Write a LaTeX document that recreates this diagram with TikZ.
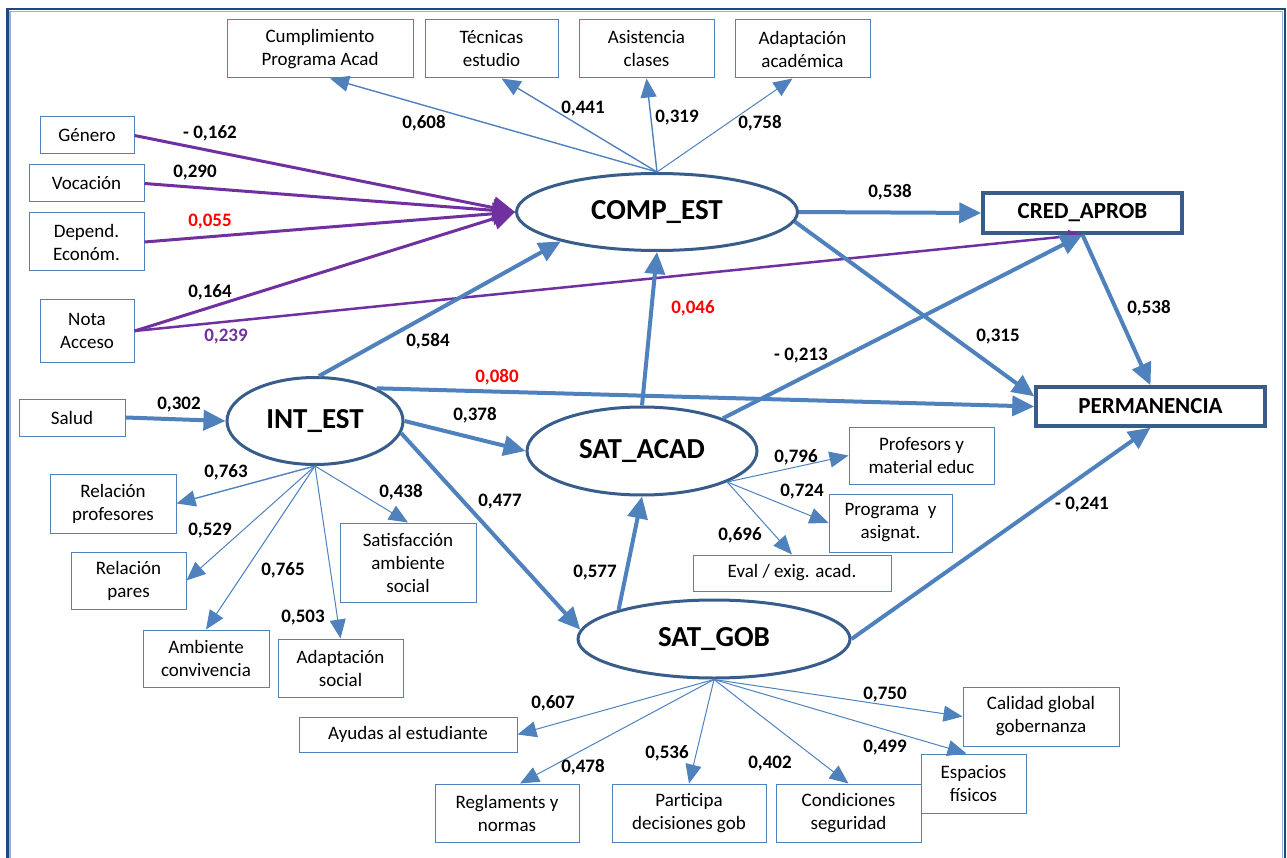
\documentclass[tikz,border=0pt]{standalone}
\usepackage{fontspec}
\setmainfont{Carlito}
\usetikzlibrary{arrows.meta, positioning, shapes.geometric, calc}
\definecolor{pathblue}{RGB}{79,129,189}
\definecolor{ovalblue}{RGB}{56,93,138}
\definecolor{frameblue}{RGB}{31,73,125}
\definecolor{framelight}{RGB}{149,179,215}
\definecolor{pathpurple}{RGB}{112,48,160}
\definecolor{coefred}{RGB}{255,0,0}

\begin{document}
\begin{tikzpicture}[x=1pt, y=-1pt,
    latent/.style={ellipse, draw=ovalblue, line width=3pt, fill=white, inner sep=0pt, font=\fontsize{29}{34}\selectfont\bfseries},
    outcome/.style={rectangle, draw=ovalblue, line width=3.5pt, fill=white, inner sep=0pt, font=\fontsize{23}{28}\selectfont\bfseries},
    indic/.style={rectangle, draw=pathblue, line width=1pt, fill=white, inner sep=0pt, align=center, font=\fontsize{19}{23}\selectfont},
    coef/.style={font=\fontsize{19}{22}\selectfont\bfseries},
    strong/.style={draw=pathblue, line width=4pt, -{Triangle[length=22pt, width=20pt]}},
    load/.style={draw=pathblue, line width=1.4pt, -{Triangle[length=19pt, width=16pt]}},
    covar/.style={draw=pathpurple, line width=3pt, -{Triangle[length=22pt, width=22pt]}}]

    \useasboundingbox (0,0) rectangle (1287,858);
    \clip (0,0) rectangle (1287,858);
    \draw[frameblue, line width=2.5pt] (7.5,9) rectangle (1285,880);
    \draw[framelight, line width=1.2pt] (10,11.5) rectangle (1282.5,880);

    % latent variables and outcomes
    \node[latent, minimum width=281, minimum height=77] (compest) at (657,212) {COMP\_EST};
    \node[latent, minimum width=176, minimum height=87] (intest) at (315,421) {INT\_EST};
    \node[latent, minimum width=230, minimum height=88] (satacad) at (642,451) {SAT\_ACAD};
    \node[latent, minimum width=272, minimum height=78] (satgob) at (714,639) {SAT\_GOB};
    \node[outcome, minimum width=199, minimum height=40] (credaprob) at (1082.5,213) {CRED\_APROB};
    \node[outcome, minimum width=229, minimum height=39] (perm) at (1150.5,406.5) {PERMANENCIA};

    % indicators
    \node[indic, minimum width=186, minimum height=58] (cumpl) at (320,49) {Cumplimiento\\Programa Acad};
    \node[indic, minimum width=133, minimum height=58] (tecnicas) at (491.5,49) {Técnicas\\estudio};
    \node[indic, minimum width=135, minimum height=58] (asist) at (646.5,49) {Asistencia\\clases};
    \node[indic, minimum width=135, minimum height=58] (adapac) at (802.5,49) {Adaptación\\académica};

    \node[indic, minimum width=94, minimum height=37] (genero) at (87,135.5) {Género};
    \node[indic, minimum width=115, minimum height=37] (vocacion) at (86.5,183.5) {Vocación};
    \node[indic, minimum width=115, minimum height=58] (depend) at (86.5,242) {Depend.\\Económ.};
    \node[indic, minimum width=94, minimum height=62] (nota) at (87,331) {Nota\\Acceso};
    \node[indic, minimum width=106, minimum height=37] (salud) at (72,417.5) {Salud};

    \node[indic, minimum width=126, minimum height=59] (relprof) at (113,503.5) {Relación\\profesores};
    \node[indic, minimum width=115, minimum height=57] (relpares) at (128.5,580.5) {Relación\\pares};
    \node[indic, minimum width=126, minimum height=57] (ambconv) at (206,658.5) {Ambiente\\convivencia};
    \node[indic, minimum width=125, minimum height=58] (adapsoc) at (340.5,668) {Adaptación\\social};
    \node[indic, minimum width=136, minimum height=79] (satamb) at (408,562.5) {Satisfacción\\ambiente\\social};

    \node[indic, minimum width=145, minimum height=57] (profmat) at (921.5,455.5) {Profesors y\\material educ};
    \node[indic, minimum width=123, minimum height=58] (progasig) at (890.5,523) {Programa~ y\\asignat.};
    \node[indic, minimum width=198, minimum height=36] (evalexig) at (792,573) {Eval / exig. acad.};

    \node[indic, minimum width=218, minimum height=35] (ayudas) at (408,734.5) {Ayudas al estudiante};
    \node[indic, minimum width=144, minimum height=58] (reglam) at (507,813) {Reglaments y\\normas};
    \node[indic, minimum width=154, minimum height=58] (particip) at (689,813) {Participa\\decisiones gob};
    \node[indic, minimum width=145, minimum height=58] (condic) at (848.5,813) {Condiciones\\seguridad};
    \node[indic, minimum width=105, minimum height=59] (espacios) at (973.5,783.5) {Espacios\\físicos};
    \node[indic, minimum width=156, minimum height=59] (calidad) at (1041,716.5) {Calidad global\\gobernanza};

    % loadings
    \draw[load] (compest.north) -- ($(cumpl.south)+(10,0)$);
    \draw[load] (compest.north) -- ($(tecnicas.south)+(10,0)$);
    \draw[load] (compest.north) -- (asist.south);
    \draw[load, line width=1pt] (compest.north) -- ($(adapac.south)+(-10,0)$);

    \draw[load] (intest.south) -- (relprof.east);
    \draw[load, line width=1pt] (intest.south) -- (relpares.east);
    \draw[load, line width=1pt] (intest.south) -- (ambconv.north);
    \draw[load, line width=1pt] (intest.south) -- (adapsoc.north);
    \draw[load, line width=1pt] (intest.south) -- (satamb.north);

    \draw[load, line width=1pt] (satacad.-20) -- (profmat.west);
    \draw[load, line width=1pt] (satacad.-20) -- (progasig.west);
    \draw[load, line width=1pt] (satacad.-20) -- (evalexig.north);

    \draw[load, line width=1pt] (satgob.south) -- (ayudas.east);
    \draw[load, line width=1pt] (satgob.south) -- ($(reglam.north)+(13,0)$);
    \draw[load, line width=1pt] (satgob.south) -- (particip.north);
    \draw[load, line width=1pt] (satgob.south) -- (condic.north);
    \draw[load, line width=1pt] (satgob.south) -- ($(espacios.north)+(-7,0)$);
    \draw[load, line width=1pt] (satgob.south) -- (calidad.west);

    % exogenous effects
    \draw[covar] (genero.east) -- (compest.west);
    \draw[covar] (vocacion.east) -- (compest.west);
    \draw[covar] (depend.east) -- (compest.west);
    \draw[covar] (nota.east) -- (compest.west);
    \draw[covar, line width=2.5pt, -{Triangle[length=14pt, width=12pt]}] (nota.east) -- (credaprob.south);

    % structural paths
    \draw[strong] (compest.east) -- (credaprob.west);
    \draw[strong] (compest.-4) -- (perm.175);
    \draw[strong] (credaprob.south) -- (perm.north);
    \draw[strong] (intest.85) -- (compest.197);
    \draw[strong] (intest.28) -- (perm.west);
    \draw[strong] (intest.east) -- (satacad.west);
    \draw[strong] (intest.-8) -- (satgob.176);
    \draw[strong] (salud.east) -- (intest.west);
    \draw[strong] (satacad.north) -- (compest.south);
    \draw[strong] (satacad.22) -- (credaprob.south);
    \draw[strong] (satgob.163) -- (satacad.south);
    \draw[strong] (satgob.east) -- (perm.south);

    % coefficients
    \node[coef] (l608) at (424,123) {0,608};
    \node[coef] (l441) at (583,109) {0,441};
    \node[coef] (l319) at (677,118) {0,319};
    \node[coef] (l758) at (760,123) {0,758};
    \node[coef] (l162) at (210,133) {- 0,162};
    \node[coef] (l290) at (195,173) {0,290};
    \node[coef, text=coefred] (l055) at (210,222) {0,055};
    \node[coef] (l164) at (210,292) {0,164};
    \node[coef, text=pathpurple] (l239) at (226,337) {0,239};
    \node[coef] (l584) at (428,341) {0,584};
    \node[coef] (l538a) at (890,192) {0,538};
    \node[coef] (l315) at (998,337) {0,315};
    \node[coef] (l538b) at (1149,308) {0,538};
    \node[coef, text=coefred] (l046) at (693,308) {0,046};
    \node[coef] (l213) at (801,356) {- 0,213};
    \node[coef, text=coefred] (l080) at (497,377) {0,080};
    \node[coef] (l302) at (179,405) {0,302};
    \node[coef] (l378) at (475,415) {0,378};
    \node[coef] (l477) at (500,502) {0,477};
    \node[coef] (l763) at (226,472) {0,763};
    \node[coef] (l529) at (210,531) {0,529};
    \node[coef] (l765) at (283,570) {0,765};
    \node[coef] (l503) at (303,618) {0,503};
    \node[coef] (l438) at (401,492) {0,438};
    \node[coef] (l796) at (796,457) {0,796};
    \node[coef] (l724) at (802,492) {0,724};
    \node[coef] (l696) at (740,535) {0,696};
    \node[coef] (l577) at (595,573) {0,577};
    \node[coef] (l241) at (1082,505) {- 0,241};
    \node[coef] (l607) at (553,703) {0,607};
    \node[coef] (l478) at (583,767) {0,478};
    \node[coef] (l536) at (667,753) {0,536};
    \node[coef] (l402) at (770,764) {0,402};
    \node[coef] (l499) at (885,748) {0,499};
    \node[coef] (l750) at (885,695) {0,750};
\end{tikzpicture}
\end{document}
